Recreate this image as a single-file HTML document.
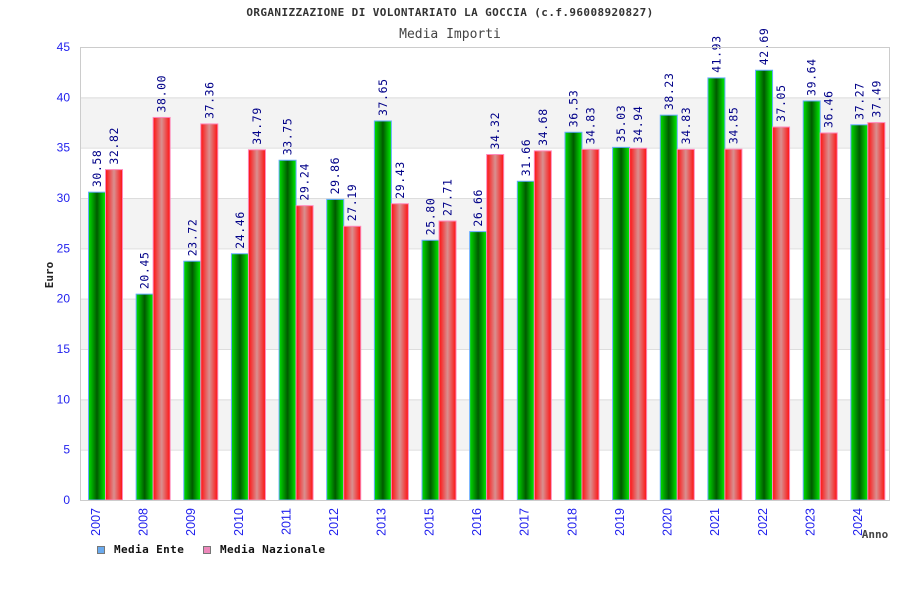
<!DOCTYPE html>
<html><head><meta charset="utf-8"><style>
body{margin:0;background:#fff;}
svg{display:block;font-family:"DejaVu Sans Mono","Liberation Mono",monospace;}
</style></head><body>
<svg id="chart" width="900" height="600">
<defs>
<linearGradient id="gG" x1="0" x2="1" y1="0" y2="0">
<stop offset="0" stop-color="#00e000"/><stop offset="0.5" stop-color="#005a00"/><stop offset="1" stop-color="#00f000"/></linearGradient>
<linearGradient id="gR" x1="0" x2="1" y1="0" y2="0">
<stop offset="0" stop-color="#ff1010"/><stop offset="0.5" stop-color="#d99090"/><stop offset="1" stop-color="#ff1010"/></linearGradient>
</defs>
<text x="450" y="16" text-anchor="middle" font-size="11" letter-spacing="0.4" font-weight="bold" fill="#333">ORGANIZZAZIONE DI VOLONTARIATO LA GOCCIA (c.f.96008920827)</text>
<text x="450" y="38" text-anchor="middle" font-size="13" fill="#444">Media Importi</text>
<g id="bands"></g><g id="grid"></g><g id="bars"></g><g id="axes"></g>
<text transform="translate(53,275) rotate(-90)" text-anchor="middle" font-size="11" font-weight="bold" fill="#222">Euro</text>
<text x="875" y="538" text-anchor="middle" font-size="11" font-weight="bold" fill="#444">Anno</text>
<g>
<rect x="97.5" y="546.5" width="7" height="7" fill="#6aaaee" stroke="#777"/>
<text x="114" y="553" font-size="11" letter-spacing="0.4" font-weight="bold" fill="#111">Media Ente</text>
<rect x="203.5" y="546.5" width="7" height="7" fill="#ee88bb" stroke="#777"/>
<text x="220" y="553" font-size="11" letter-spacing="0.4" font-weight="bold" fill="#111">Media Nazionale</text>
</g>
</svg>
<script>
const categories=["2007","2008","2009","2010","2011","2012","2013","2015","2016","2017","2018","2019","2020","2021","2022","2023","2024"];
const mediaEnte=[30.58,20.45,23.72,24.46,33.75,29.86,37.65,25.80,26.66,31.66,36.53,35.03,38.23,41.93,42.69,39.64,37.27];
const mediaNazionale=[32.82,38.00,37.36,34.79,29.24,27.19,29.43,27.71,34.32,34.68,34.83,34.94,34.83,34.85,37.05,36.46,37.49];
const yTicks=[0,5,10,15,20,25,30,35,40,45];
const NS="http://www.w3.org/2000/svg";
const L=80,R=890,T=47,B=500,yMax=45;
const y=v=>B-(v/yMax)*(B-T);
const pitch=(R-L)/categories.length;
const x=i=>L+i*pitch;
function mk(tag,attrs,parent){const e=document.createElementNS(NS,tag);for(const k in attrs)e.setAttribute(k,attrs[k]);parent.appendChild(e);return e;}
const bands=document.getElementById('bands'),grid=document.getElementById('grid'),bars=document.getElementById('bars'),axes=document.getElementById('axes');
for(let i=0;i<yTicks.length-1;i++){
  if(i%2===1){const r=mk('rect',{x:L,y:y(yTicks[i+1]),width:R-L,height:y(yTicks[i])-y(yTicks[i+1]),fill:'#f3f3f3'},bands);
  
  }
}
yTicks.forEach(t=>{
  const l=mk('line',{x1:L,x2:R,y1:y(t)+0.5,y2:y(t)+0.5,stroke:'#ddd'},grid);
  
  
  const tx=mk('text',{x:70,y:y(t)+4,'text-anchor':'end','font-size':12,fill:'#2222ee','font-family':'Liberation Sans, sans-serif'},axes);
  tx.textContent=t;
  
  
});
mk('rect',{x:L+0.5,y:T+0.5,width:R-L-1,height:B-T,fill:'none',stroke:'#ccc'},axes);
const bw=17;
categories.forEach((c,i)=>{
  const gx=x(i)+8.5;
  [[mediaEnte[i],gx,'url(#gG)','#66aaff','bar-media-ente-'],[mediaNazionale[i],gx+bw,'url(#gR)','#ff88bb','bar-media-nazionale-']].forEach(([v,bx,f,s,n])=>{
    const r=mk('rect',{x:bx,y:y(v),width:bw,height:B-y(v),fill:f,stroke:s,'stroke-width':1},bars);
    
    
    const t=mk('text',{transform:`translate(${bx+bw/2+4},${y(v)-5}) rotate(-90)`,'font-size':11.5,'letter-spacing':0.6,fill:'#000088','font-family':'DejaVu Sans Mono, Liberation Mono, monospace'},bars);
    t.textContent=v.toFixed(2);
    
    
  });
  const xt=mk('text',{transform:`translate(${x(i)+pitch/2-8+4},${508}) rotate(-90)`,'text-anchor':'end','font-size':12.5,fill:'#2222ee','font-family':'Liberation Sans, sans-serif'},axes);
  xt.textContent=c;
  
  
});
</script>
</body></html>
